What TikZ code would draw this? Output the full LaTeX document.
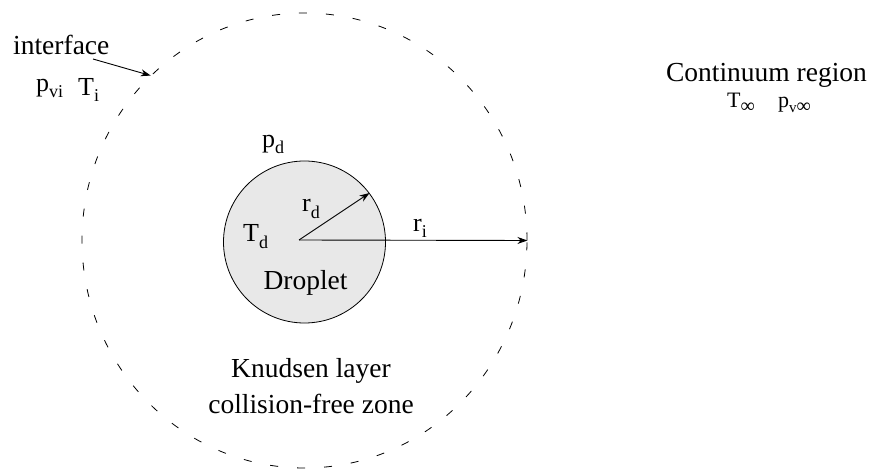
\documentclass[tikz,border=0pt]{standalone}
\usepackage{fontspec}
\setmainfont{Liberation Serif}
\usetikzlibrary{arrows.meta,shapes.geometric}
\newcommand\sbx[1]{\raisebox{-6pt}{\fontsize{18}{18}\selectfont #1}}
\newcommand\sbinf[1]{\raisebox{-5pt}{\fontsize{15}{15}\selectfont #1}}
\begin{document}
\begin{tikzpicture}[x=1pt,y=-1pt,
 txt/.style={font=\fontsize{27.5}{31}\selectfont, inner sep=0, anchor=base},
 lbl/.style={font=\fontsize{26}{30}\selectfont, inner sep=0, anchor=base west},
 lblsm/.style={font=\fontsize{22}{24}\selectfont, inner sep=0, anchor=base west},
 arr/.style={line width=0.9pt, -{Stealth[length=10pt,width=7pt]}}]
\useasboundingbox (0,0) rectangle (872,470);
\node[ellipse, draw, dash pattern=on 8pt off 19pt, line width=0.8pt, minimum width=445pt, minimum height=455pt, inner sep=0] (iface) at (304.5,240.5) {};
\node[circle, draw, fill=gray!18, line width=0.8pt, minimum size=162pt, inner sep=0] (drop) at (304.5,242) {};
\coordinate (o) at (299,240);
\draw[arr] (o) -- (drop.37);
\draw[arr] (o) -- (iface.east);
\coordinate (ia) at (93,59);
\draw[arr] (ia) -- (iface.133);
\node[txt, anchor=base west] (tint) at (13,55) {interface};
\node[lbl] (pvi) at (36,92) {p\sbx{vi}};
\node[lbl] (ti) at (78,96) {T\sbx{i}};
\node[lbl] (pd) at (262,148) {p\sbx{d}};
\node[lbl] (rd) at (302,212) {r\sbx{d}};
\node[lbl] (td) at (243,242) {T\sbx{d}};
\node[txt] (dl) at (305.5,289) {Droplet};
\node[lbl] (ri) at (413,232) {r\sbx{i}};
\node[txt] (cr) at (766.5,82) {Continuum region};
\node[lblsm] (tinf) at (727,108) {T\sbinf{\fontsize{20}{20}\selectfont ∞}};
\node[lblsm] (pinf) at (778,108) {p\sbinf{v\fontsize{20}{20}\selectfont ∞}};
\node[txt] (kl) at (311,377) {Knudsen layer};
\node[txt] (cf) at (311,413) {collision-free zone};
\end{tikzpicture}
\end{document}
